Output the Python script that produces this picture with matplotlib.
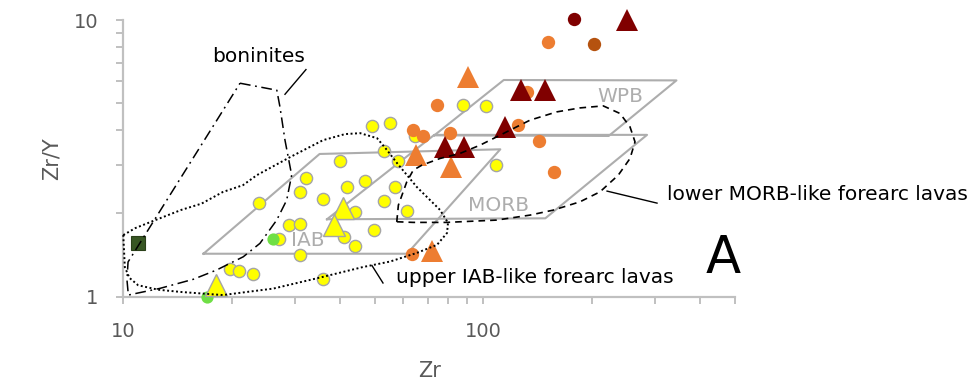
import matplotlib
matplotlib.use("Agg")
import matplotlib.pyplot as plt
from matplotlib.ticker import LogLocator, NullFormatter, FixedLocator, FixedFormatter

# --- sample data (Zr, Zr/Y) ---
yel_zr = [19.8, 21.0, 22.9, 23.9, 27.0, 28.9, 30.9, 30.9, 32.1, 30.9, 35.9, 35.9, 39.9, 41.1, 41.9,
          44.1, 44.1, 46.8, 49.2, 49.8, 52.9, 53.1, 54.9, 57.0, 57.9, 61.2, 64.7, 88.0, 102, 108.5]
yel_zry = [1.26, 1.24, 1.21, 2.19, 1.61, 1.82, 1.83, 2.40, 2.69, 1.41, 1.16, 2.26, 3.09, 1.64, 2.49,
           2.02, 1.53, 2.62, 4.13, 1.74, 3.35, 2.22, 4.26, 2.49, 3.09, 2.04, 3.81, 4.93, 4.89, 2.98]
grn_zr = [26.1, 17.1]
grn_zry = [1.62, 1.00]
yel_tri_zr = [18.1, 40.8, 38.4]
yel_tri_zry = [1.10, 2.10, 1.82]
org_zr = [151, 74.3, 63.9, 68.0, 81.0, 125, 143, 157.5, 132, 63.4]
org_zry = [8.35, 4.92, 4.02, 3.81, 3.89, 4.16, 3.66, 2.83, 5.51, 1.43]
org_tri_zr = [90.4, 65.0, 81.3, 72.0]
org_tri_zry = [6.20, 3.26, 2.95, 1.46]
red_zr = [179]
red_zry = [10.1]
brn_zr = [203]
brn_zry = [8.17]
red_tri_zr = [250, 127.5, 148, 115, 78.1, 88.6]
red_tri_zry = [10.0, 5.59, 5.59, 4.11, 3.48, 3.48]
sq_zr = [11.0]
sq_zry = [1.56]

# --- discrimination fields ---
iab_zr = [16.7, 61.4, 111.5, 35.1, 16.7]
iab_zry = [1.43, 1.43, 3.41, 3.28, 1.43]
morb_zr = [36.8, 148.7, 285, 73.1, 36.8]
morb_zry = [1.905, 1.92, 3.845, 3.845, 1.905]
wpb_zr = [73.1, 223, 344, 114, 73.1]
wpb_zry = [3.83, 3.81, 6.05, 6.07, 3.83]

# --- envelopes ---
upper_zr = [10.0, 10.8, 12.0, 14.5, 16.5, 18.9, 21.5, 23.5, 29.0, 35.9, 41.3, 45.5, 50.7, 54.0, 57.6,
            65.4, 75.8, 79.8, 79.3, 74.4, 65.4, 55.1, 46.3, 35.9, 26.1, 18.9, 14.5, 12.5, 11.0, 10.4,
            10.1, 10.0]
upper_zry = [1.67, 1.77, 1.87, 2.06, 2.17, 2.39, 2.53, 2.75, 3.19, 3.68, 3.87, 3.90, 3.74, 3.39, 3.04,
             2.49, 2.06, 1.85, 1.70, 1.54, 1.44, 1.34, 1.28, 1.18, 1.07, 1.014, 1.04, 1.06, 1.10, 1.17,
             1.28, 1.67]
lower_zr = [57.5, 58.1, 61.3, 63.9, 67.5, 75.8, 86.1, 97.9, 108.9, 121.2, 134.8, 159.9, 185.6, 215.4,
            239.8, 255.6, 263.9, 255.6, 237.1, 211.0, 185.6, 156.5, 134.8, 108.9, 79.1, 63.9, 57.5]
lower_zry = [1.866, 2.143, 2.601, 2.867, 2.988, 3.159, 3.294, 3.528, 3.781, 4.054, 4.345, 4.655, 4.812,
             4.893, 4.593, 4.109, 3.627, 3.159, 2.75, 2.394, 2.203, 2.056, 1.972, 1.892, 1.856, 1.856,
             1.866]
bon_zr = [21.1, 26.7, 27.24, 28.13, 29.36, 28.44, 26.68, 23.97, 21.54, 19.79, 18.17, 15.65, 12.65,
          10.33, 10.24, 10.31, 21.1]
bon_zry = [5.91, 5.575, 4.852, 3.68, 2.75, 2.234, 1.892, 1.559, 1.394, 1.32, 1.249, 1.156, 1.072,
           1.014, 1.149, 1.335, 5.91]

fig = plt.figure(figsize=(9.76, 3.84), dpi=100)
ax = fig.add_axes([0.1263, 0.2273, 0.6267, 0.7206])
ax.set_xscale("log")
ax.set_yscale("log")
ax.set_xlim(10, 500)
ax.set_ylim(1, 10)

field_col = "#adadad"
for fx, fy in [(iab_zr, iab_zry), (morb_zr, morb_zry), (wpb_zr, wpb_zry)]:
    ax.plot(fx, fy, color=field_col, lw=1.5, zorder=1)

# markers
ax.plot(yel_zr, yel_zry, "o", ms=8.8, mfc="#ffff00", mec="#a5a5a5", mew=1.0, zorder=3, clip_on=False)
ax.plot(grn_zr, grn_zry, "o", ms=8.8, mfc="#6fdf45", mec="#6fdf45", mew=0, zorder=3, clip_on=False)
ax.plot(yel_tri_zr, yel_tri_zry, "^", ms=16, mfc="#ffff00", mec="#a5a5a5", mew=1.0, zorder=3, clip_on=False)
ax.plot(org_zr, org_zry, "o", ms=9.6, mfc="#ed7d31", mec="#ed7d31", mew=0, zorder=3, clip_on=False)
ax.plot(org_tri_zr, org_tri_zry, "^", ms=16, mfc="#ed7d31", mec="#ed7d31", mew=0, zorder=3, clip_on=False)
ax.plot(red_zr, red_zry, "o", ms=9.6, mfc="#7f0000", mec="#7f0000", mew=0, zorder=3, clip_on=False)
ax.plot(brn_zr, brn_zry, "o", ms=9.6, mfc="#b5520f", mec="#b5520f", mew=0, zorder=3, clip_on=False)
ax.plot(red_tri_zr, red_tri_zry, "^", ms=16, mfc="#800000", mec="#800000", mew=0, zorder=3, clip_on=False)
ax.plot(sq_zr, sq_zry, "s", ms=10, mfc="#375623", mec="#2a4019", mew=0.8, zorder=3, clip_on=False)

# envelopes
ax.plot(upper_zr, upper_zry, color="black", lw=1.4, ls=(0, (1, 1.3)), zorder=4, clip_on=False)
ax.plot(lower_zr, lower_zry, color="black", lw=1.2, ls=(0, (4, 3)), zorder=4)
ax.plot(bon_zr, bon_zry, color="black", lw=1.1, ls=(0, (7, 3, 1.2, 3)), zorder=4, clip_on=False)

# leader lines
ax.plot([32.17, 28.13], [6.62, 5.39], color="black", lw=1.0, zorder=4)
ax.plot([49.07, 52.65], [1.296, 1.121], color="black", lw=1.0, zorder=4)
ax.plot([220.7, 303.8], [2.408, 2.179], color="black", lw=1.0, zorder=4)

fs = 14.5
ax.text(23.83, 7.40, "boninites", fontsize=fs, ha="center", va="center")
ax.text(57.2, 1.178, "upper IAB-like forearc lavas", fontsize=fs, ha="left", va="center")
ax.text(323.7, 2.349, "lower MORB-like forearc lavas", fontsize=fs, ha="left", va="center")
ax.text(32.6, 1.602, "IAB", fontsize=fs, color=field_col, ha="center", va="center")
ax.text(109.9, 2.143, "MORB", fontsize=fs, color=field_col, ha="center", va="center")
ax.text(239.8, 5.27, "WPB", fontsize=fs, color=field_col, ha="center", va="center")
ax.text(463.4, 1.368, "A", fontsize=37, ha="center", va="center")

# axes styling
for s in ["top", "right"]:
    ax.spines[s].set_visible(False)
for s in ["left", "bottom"]:
    ax.spines[s].set_color("#c0c0c0")
    ax.spines[s].set_linewidth(1.6)

ax.xaxis.set_major_locator(FixedLocator([10, 100]))
ax.xaxis.set_major_formatter(FixedFormatter(["10", "100"]))
ax.yaxis.set_major_locator(FixedLocator([1, 10]))
ax.yaxis.set_major_formatter(FixedFormatter(["1", "10"]))
ax.xaxis.set_minor_locator(LogLocator(base=10, subs=range(2, 10)))
ax.yaxis.set_minor_locator(LogLocator(base=10, subs=range(2, 10)))
ax.xaxis.set_minor_formatter(NullFormatter())
ax.yaxis.set_minor_formatter(NullFormatter())
ax.tick_params(which="both", direction="out", length=5, width=1.4, color="#c0c0c0",
               labelcolor="#595959", labelsize=14, pad=13)

ax.set_xlabel("Zr", fontsize=15, color="#595959")
ax.set_ylabel("Zr/Y", fontsize=15, color="#595959")
ax.xaxis.set_label_coords(0.5, -0.232)
ax.yaxis.set_label_coords(-0.1, 0.5)

fig.savefig("out.png", dpi=100)
